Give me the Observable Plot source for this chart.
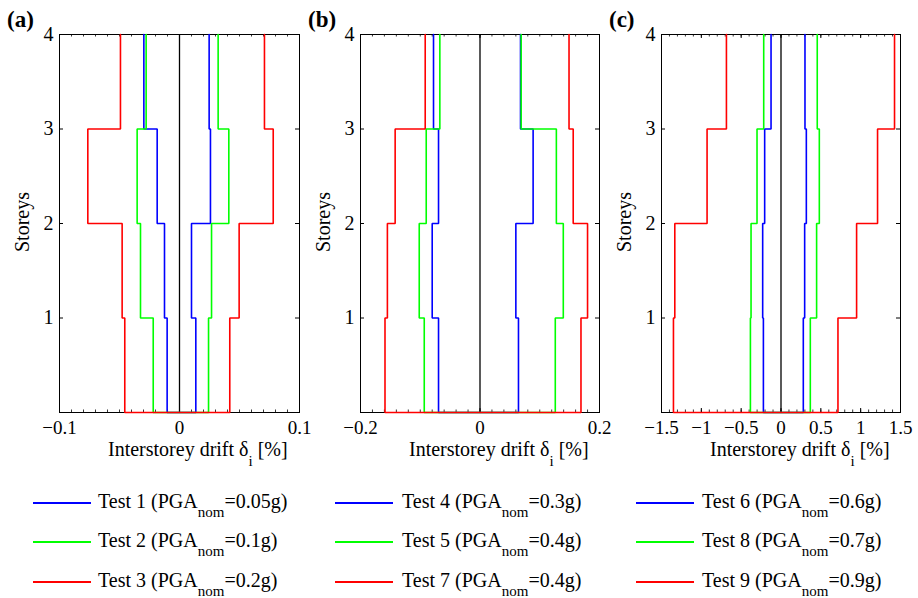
<!DOCTYPE html>
<html><head><meta charset="utf-8">
<script src="https://cdn.jsdelivr.net/npm/d3@7"></script>
<script src="https://cdn.jsdelivr.net/npm/@observablehq/plot@0.6"></script>
<style>
body{margin:0;background:#fff;}
#chart{position:relative;width:918px;height:598px;overflow:hidden;font-family:'Liberation Serif','Tinos','Times New Roman','DejaVu Serif','Noto Serif',serif;color:#000;background:#fff;}
.abs{position:absolute;white-space:nowrap;font-size:20px;line-height:20px;}
.sub{position:relative;font-size:15px;}
.plotwrap{position:absolute;top:0;}
.lline{position:absolute;height:0;border-top:2px solid;}
</style></head><body><div id="chart"></div>
<script>
const FONT = "'Liberation Serif','Tinos','Times New Roman','DejaVu Serif','Noto Serif',serif";
// Storey numbers (index 0 = storey 1, spanning 0..1)
const storeys = [1, 2, 3, 4];
const yTicks = [1, 2, 3, 4];

// Panel (a)
const ticksA = [-0.1, 0, 0.1];
const test1Neg = [-0.0103, -0.0125, -0.0186, -0.0297];
const test1Pos = [0.0136, 0.0100, 0.0258, 0.0247];
const test2Neg = [-0.0219, -0.0325, -0.0353, -0.0278];
const test2Pos = [0.0242, 0.0267, 0.0411, 0.0322];
const test3Neg = [-0.0456, -0.0478, -0.0764, -0.0492];
const test3Pos = [0.0419, 0.0497, 0.0781, 0.0708];

// Panel (b)
const ticksB = [-0.2, 0, 0.2];
const test4Neg = [-0.0694, -0.0800, -0.0694, -0.0778];
const test4Pos = [0.0644, 0.0600, 0.0889, 0.0678];
const test5Neg = [-0.0933, -0.1017, -0.0900, -0.0672];
const test5Pos = [0.1260, 0.1394, 0.1278, 0.0689];
const test7Neg = [-0.1590, -0.1550, -0.1420, -0.0917];
const test7Pos = [0.1690, 0.1800, 0.1560, 0.1490];

// Panel (c)
const ticksC = [-1.5, -1, -0.5, 0, 0.5, 1, 1.5];
const test6Neg = [-0.221, -0.230, -0.205, -0.125];
const test6Pos = [0.280, 0.297, 0.318, 0.301];
const test8Neg = [-0.384, -0.376, -0.301, -0.217];
const test8Pos = [0.368, 0.447, 0.481, 0.455];
const test9Neg = [-1.350, -1.333, -0.928, -0.685];
const test9Pos = [0.715, 0.949, 1.212, 1.425];

// Legend texts
const namesA = ["Test 1", "Test 2", "Test 3"], pgaA = ["0.05g", "0.1g", "0.2g"];
const namesB = ["Test 4", "Test 5", "Test 7"], pgaB = ["0.3g", "0.4g", "0.4g"];
const namesC = ["Test 6", "Test 8", "Test 9"], pgaC = ["0.6g", "0.7g", "0.9g"];
const colors = ["#0000ff", "#00ff00", "#ff0000"];

const fmt = d => (d < 0 ? "\u2212" : "") + String(Math.abs(d));

function envelope(neg, pos) {
  const pts = [];
  for (let i = storeys.length - 1; i >= 0; i--) {
    pts.push({x: neg[i], y: storeys[i]});
    pts.push({x: neg[i], y: storeys[i] - 1});
  }
  for (let i = 0; i < storeys.length; i++) {
    pts.push({x: pos[i], y: storeys[i] - 1});
    pts.push({x: pos[i], y: storeys[i]});
  }
  return pts;
}

const panels = [
  {tag: "(a)", svgLeft: 0, left: 59, right: 299, domain: [-0.1, 0.1], ticks: ticksA, minorStep: 0.01,
   tests: [[test1Neg, test1Pos], [test2Neg, test2Pos], [test3Neg, test3Pos]], names: namesA, pga: pgaA},
  {tag: "(b)", svgLeft: 300, left: 360, right: 599, domain: [-0.2, 0.2], ticks: ticksB, minorStep: 0.02,
   tests: [[test4Neg, test4Pos], [test5Neg, test5Pos], [test7Neg, test7Pos]], names: namesB, pga: pgaB},
  {tag: "(c)", svgLeft: 600, left: 661, right: 900, domain: [-1.5, 1.5], ticks: ticksC, minorStep: 0.1,
   tests: [[test6Neg, test6Pos], [test8Neg, test8Pos], [test9Neg, test9Pos]], names: namesC, pga: pgaC}
];

const chart = document.getElementById("chart");
const TOP = 34, BOTTOM = 412, H = 470, W = 306;
const innerH = BOTTOM - TOP;

panels.forEach((p, k) => {
  const innerW = p.right - p.left;
  const minor = d3.range(p.domain[0], p.domain[1] + p.minorStep / 2, p.minorStep);
  const marks = [
    Plot.frame({stroke: "black", strokeWidth: 1}),
    Plot.ruleX(minor, {x: d => d, insetTop: innerH - 2.5, stroke: "black", strokeWidth: 0.8}),
    Plot.ruleX(minor, {x: d => d, insetBottom: innerH - 2.5, stroke: "black", strokeWidth: 0.8}),
    Plot.ruleX(p.ticks, {x: d => d, insetTop: innerH - 4, stroke: "black", strokeWidth: 1}),
    Plot.ruleX(p.ticks, {x: d => d, insetBottom: innerH - 4, stroke: "black", strokeWidth: 1}),
    Plot.ruleY(yTicks, {y: d => d, insetRight: innerW - 4, stroke: "black", strokeWidth: 1}),
    Plot.ruleY(yTicks, {y: d => d, insetLeft: innerW - 4, stroke: "black", strokeWidth: 1}),
    Plot.axisX(p.ticks, {anchor: "bottom", tickSize: 0, tickPadding: 8, label: null, fontSize: 19, tickFormat: fmt}),
    Plot.axisY(yTicks, {anchor: "left", tickSize: 0, tickPadding: 6, label: null, fontSize: 20, tickFormat: fmt}),
    Plot.ruleX([0], {stroke: "black", strokeWidth: 1.3})
  ];
  p.tests.forEach((t, i) => {
    marks.push(Plot.line(envelope(t[0], t[1]), {x: "x", y: "y", stroke: colors[i], strokeWidth: 1.6, strokeLinejoin: "miter"}));
  });
  const svg = Plot.plot({
    width: W, height: H,
    marginLeft: p.left - p.svgLeft, marginRight: W - (p.right - p.svgLeft),
    marginTop: TOP, marginBottom: H - BOTTOM,
    x: {domain: p.domain},
    y: {domain: [0, 4]},
    style: {fontFamily: FONT, fontSize: "20px", color: "black", background: "transparent", overflow: "visible"},
    marks
  });
  const wrap = document.createElement("div");
  wrap.className = "plotwrap";
  wrap.style.left = p.svgLeft + "px";
  wrap.appendChild(svg);
  chart.appendChild(wrap);

  // panel tag
  const tag = document.createElement("div");
  tag.className = "abs";
  tag.style.cssText = `left:${p.left - 52}px;top:8px;font-size:23px;line-height:23px;font-weight:bold;`;
  tag.textContent = p.tag;
  chart.appendChild(tag);

  // y label
  const yl = document.createElement("div");
  yl.className = "abs";
  yl.style.cssText = `left:${p.left - 37 - 50}px;top:${222 - 11}px;width:100px;height:22px;line-height:22px;text-align:center;transform:rotate(-90deg);`;
  yl.textContent = "Storeys";
  chart.appendChild(yl);

  // x label
  const xl = document.createElement("div");
  xl.className = "abs";
  xl.style.cssText = `left:${p.left + 49}px;top:444px;line-height:10px;`;
  xl.innerHTML = 'Interstorey drift δ<span class="sub" style="top:10px;">i</span> [%]';
  chart.appendChild(xl);

  // legend
  const legLineX = [33, 335, 636][k], legTextX = [98, 402, 702][k];
  const rowsY = [503, 542, 582];
  p.names.forEach((n, i) => {
    const ln = document.createElement("div");
    ln.className = "lline";
    ln.style.cssText = `left:${legLineX}px;top:${rowsY[i] - 1}px;width:${58}px;border-top-color:${colors[i]};`;
    chart.appendChild(ln);
    const tx = document.createElement("div");
    tx.className = "abs";
    tx.style.cssText = `left:${legTextX}px;top:${rowsY[i] + 5 - 17}px;`;
    tx.innerHTML = `${n} (PGA<span class="sub" style="top:9px;">nom</span>=${p.pga[i]})`;
    chart.appendChild(tx);
  });
});
</script></body></html>
